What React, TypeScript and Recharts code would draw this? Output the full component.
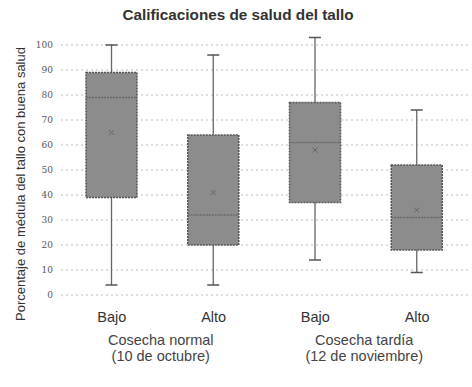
import React from 'react';
import { ComposedChart, Bar, XAxis, YAxis, CartesianGrid } from 'recharts';

const categories = ['Bajo', 'Alto', 'Bajo', 'Alto'];
const minimo = [4, 4, 14, 9];
const q1 = [39, 20, 37, 18];
const mediana = [79, 32, 61, 31];
const q3 = [89, 64, 77, 52];
const maximo = [100, 96, 103, 74];
const media = [65, 41, 58, 34];
const grupos = [
  ['Cosecha normal', '(10 de octubre)'],
  ['Cosecha tardía', '(12 de noviembre)'],
];
const yTicks = [0, 10, 20, 30, 40, 50, 60, 70, 80, 90, 100];

const data = categories.map((name, i) => ({
  name,
  rango: [minimo[i], maximo[i]],
  min: minimo[i],
  q1: q1[i],
  med: mediana[i],
  q3: q3[i],
  max: maximo[i],
  mean: media[i],
}));

const font = 'Liberation Sans, Arial, sans-serif';

const BoxShape = (props: any) => {
  const { x, y, width, height, payload } = props;
  const { min, max } = payload;
  const toY = (v: number) => y + ((max - v) * height) / (max - min);
  const cx = x + width / 2;
  const cap = 6;
  const mx = 2.5;
  return (
    <g>
      <line x1={cx} x2={cx} y1={toY(max)} y2={toY(min)} stroke="#666" strokeWidth={1.3} />
      <line x1={cx - cap} x2={cx + cap} y1={toY(max)} y2={toY(max)} stroke="#555" strokeWidth={1.5} />
      <line x1={cx - cap} x2={cx + cap} y1={toY(min)} y2={toY(min)} stroke="#555" strokeWidth={1.5} />
      <rect
        x={x}
        y={toY(payload.q3)}
        width={width}
        height={toY(payload.q1) - toY(payload.q3)}
        fill="#8c8c8c"
        stroke="#555"
        strokeWidth={1.5}
        strokeDasharray="2 1"
      />
      <line x1={x} x2={x + width} y1={toY(payload.med)} y2={toY(payload.med)} stroke="#6a6a6a" strokeWidth={1.3} strokeDasharray="2 1" />
      <line x1={cx - mx} x2={cx + mx} y1={toY(payload.mean) - mx} y2={toY(payload.mean) + mx} stroke="#666" strokeWidth={1} />
      <line x1={cx - mx} x2={cx + mx} y1={toY(payload.mean) + mx} y2={toY(payload.mean) - mx} stroke="#666" strokeWidth={1} />
    </g>
  );
};

const XTick = (props: any) => {
  const { x, y, payload, index } = props;
  const band = 101.7;
  const g = grupos[Math.floor(index / 2)];
  return (
    <g>
      <text x={x} y={y + 19} textAnchor="middle" fontSize={14.5} fill="#333" fontFamily={font}>
        {payload.value}
      </text>
      {index % 2 === 0 && (
        <text x={x + band / 2} y={y + 42} textAnchor="middle" fontSize={14.5} fill="#444" fontFamily={font}>
          <tspan x={x + band / 2 - 2}>{g[0]}</tspan>
          <tspan x={x + band / 2 - 2} dy={16}>{g[1]}</tspan>
        </text>
      )}
    </g>
  );
};

const App = () => {
  return (
    <div style={{ position: 'absolute', left: 0, top: 0, width: 472, height: 387, background: '#fff' }}>
      <div
        style={{
          position: 'absolute',
          top: 6,
          left: 0,
          width: 476,
          textAlign: 'center',
          fontFamily: font,
          fontWeight: 'bold',
          fontSize: 15.3,
          color: '#333',
        }}
      >
        Calificaciones de salud del tallo
      </div>
      <ComposedChart
        width={472}
        height={387}
        data={data}
        margin={{ top: 35, right: 4, bottom: 62, left: 31 }}
        barSize={51}
      >
        <CartesianGrid vertical={false} stroke="#bdbdbd" strokeDasharray="2 3" horizontalValues={yTicks} />
        <XAxis dataKey="name" height={30} axisLine={false} tickLine={false} tick={<XTick />} interval={0} />
        <YAxis
          domain={[0, 104]}
          ticks={yTicks}
          width={30}
          axisLine={false}
          tickLine={false}
          tick={{ fontSize: 9, fill: '#555', fontFamily: 'DejaVu Serif, serif' }}
          label={{
            content: () => (
              <text
                x={25}
                y={184}
                transform="rotate(-90 25 184)"
                textAnchor="middle"
                fontSize={13}
                fill="#333"
                fontFamily={font}
              >
                Porcentaje de médula del tallo con buena salud
              </text>
            ),
          }}
        />
        <Bar dataKey="rango" shape={<BoxShape />} isAnimationActive={false} />
      </ComposedChart>
    </div>
  );
};

export default App;
